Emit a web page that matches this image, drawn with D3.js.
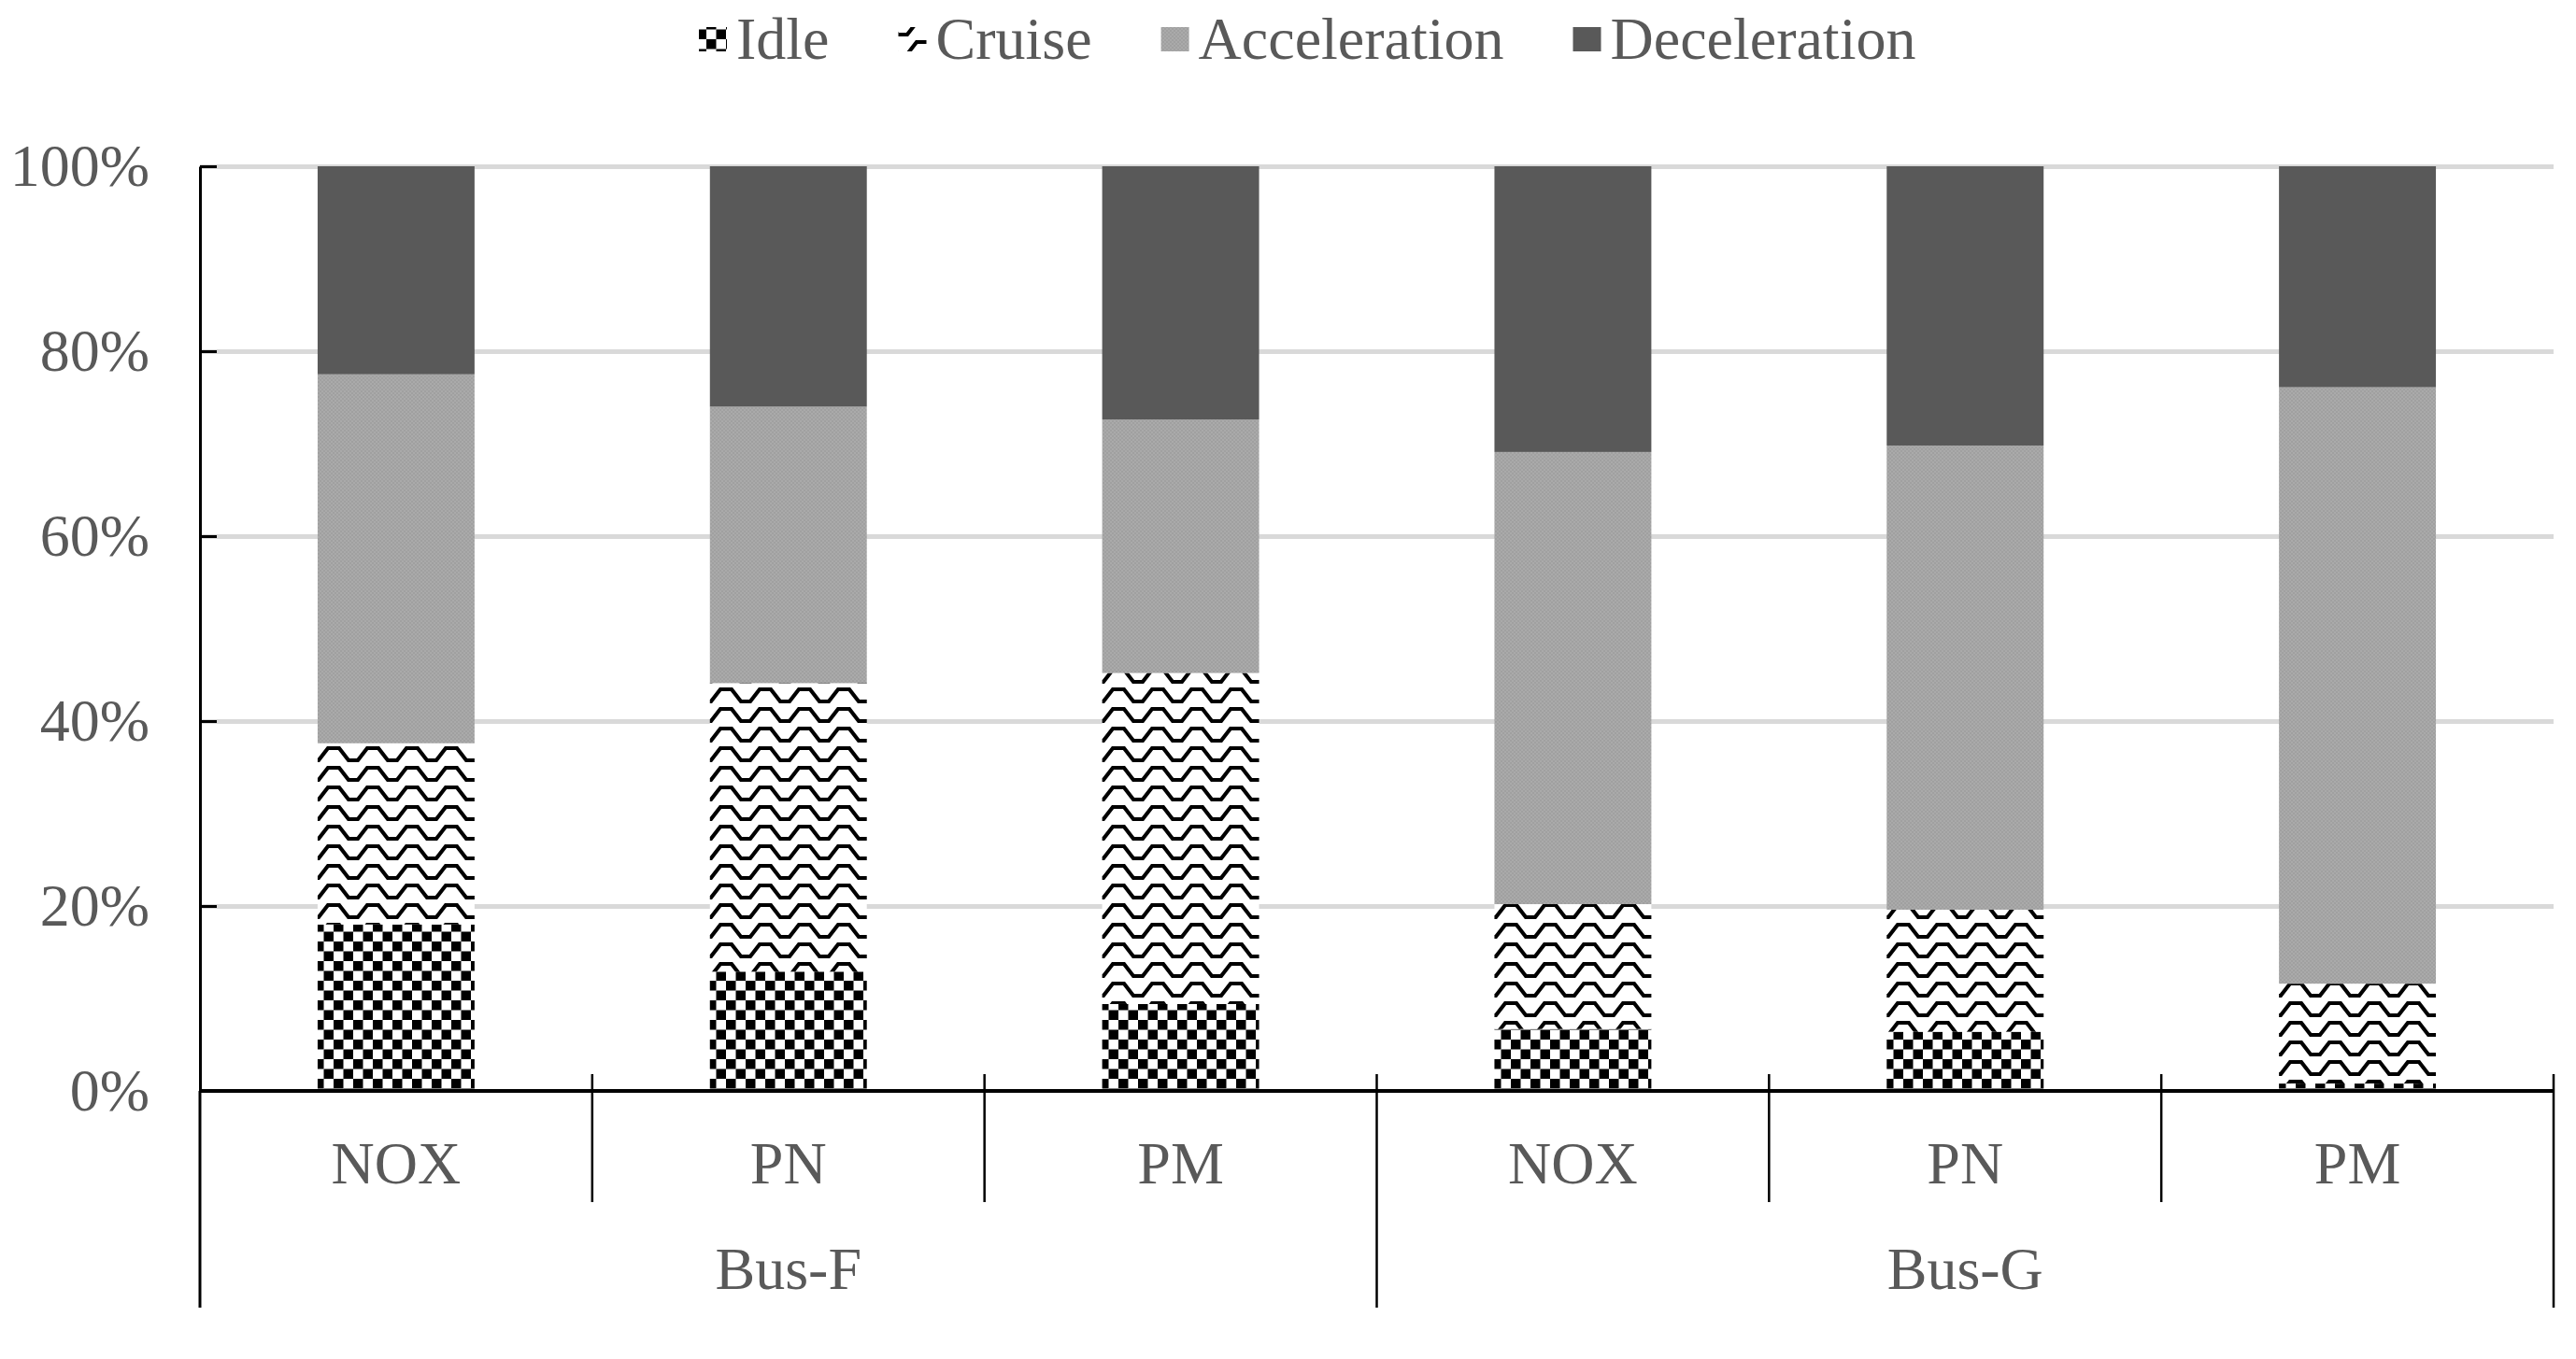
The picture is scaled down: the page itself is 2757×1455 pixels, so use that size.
<!DOCTYPE html>
<html>
<head>
<meta charset="utf-8">
<script src="https://cdn.jsdelivr.net/npm/d3@7"></script>
<style>
  html, body { margin: 0; padding: 0; background: #ffffff; }
  svg { display: block; }
  text { font-family: "Liberation Serif", "Times New Roman", serif; fill: #595959; }
</style>
</head>
<body>
<svg id="chart" width="2757" height="1455"></svg>
<script>
// ---------------- data ----------------
const groups = ["Bus-F", "Bus-G"];
const pollutants = ["NOX", "PN", "PM"];
const categories = ["Bus-F|NOX", "Bus-F|PN", "Bus-F|PM", "Bus-G|NOX", "Bus-G|PN", "Bus-G|PM"];
const seriesNames = ["Idle", "Cruise", "Acceleration", "Deceleration"];
// share (%) of each driving mode, per category (same order as categories)
const idle         = [18.0, 12.9,  9.4,  6.7,  6.4,  0.8];
const cruise       = [19.6, 31.2, 35.8, 13.5, 13.2, 10.8];
const acceleration = [39.9, 29.9, 27.4, 48.9, 50.2, 64.5];
const deceleration = [22.5, 26.0, 27.4, 30.9, 30.2, 23.9];
const yTicks = [0, 0.2, 0.4, 0.6, 0.8, 1.0];

// ---------------- layout ----------------
const plotLeft = 214, plotRight = 2733, plotTop = 178, plotBottom = 1168;
const FONT = 64;

const svg = d3.select("#chart");

// patterns
const defs = svg.append("defs");
const pIdle = defs.append("pattern").attr("id", "pIdle")
  .attr("patternUnits", "userSpaceOnUse").attr("width", 21).attr("height", 21);
pIdle.append("rect").attr("width", 21).attr("height", 21).attr("fill", "#fff");
pIdle.append("rect").attr("x", 0).attr("y", 0).attr("width", 10.5).attr("height", 10.5).attr("fill", "#000");
pIdle.append("rect").attr("x", 10.5).attr("y", 10.5).attr("width", 10.5).attr("height", 10.5).attr("fill", "#000");

const pCruise = defs.append("pattern").attr("id", "pCruise")
  .attr("patternUnits", "userSpaceOnUse").attr("width", 42).attr("height", 21);
pCruise.append("rect").attr("width", 42).attr("height", 21).attr("fill", "#fff");
pCruise.append("path")
  .attr("d", "M-6,16 L5,16 L15,3 L27,3 L37,16 L48,16")
  .attr("fill", "none").attr("stroke", "#000").attr("stroke-width", 4.2)
  .attr("stroke-linejoin", "miter");

const pAcc = defs.append("pattern").attr("id", "pAcc")
  .attr("patternUnits", "userSpaceOnUse").attr("width", 4).attr("height", 4);
pAcc.append("rect").attr("width", 4).attr("height", 4).attr("fill", "#aaaaaa");
pAcc.append("rect").attr("x", 0).attr("y", 0).attr("width", 2).attr("height", 2).attr("fill", "#a0a0a0");
pAcc.append("rect").attr("x", 2).attr("y", 2).attr("width", 2).attr("height", 2).attr("fill", "#a0a0a0");

const fills = {
  "Idle": "url(#pIdle)",
  "Cruise": "url(#pCruise)",
  "Acceleration": "url(#pAcc)",
  "Deceleration": "#595959"
};

// scales
const x = d3.scaleBand().domain(categories).range([plotLeft, plotRight])
  .paddingInner(0.6).paddingOuter(0.3);
const y = d3.scaleLinear().domain([0, 1]).range([plotBottom, plotTop]);

// gridlines
const grid = svg.append("g").attr("transform", `translate(${plotLeft},0)`)
  .call(d3.axisLeft(y).tickValues(yTicks.slice(1)).tickSize(-(plotRight - plotLeft)).tickFormat(""));
grid.select(".domain").remove();
grid.selectAll("line").attr("stroke", "#d9d9d9").attr("stroke-width", 5);

// stacked data
const rows = categories.map((c, i) => ({
  cat: c,
  "Idle": idle[i] / 100,
  "Cruise": cruise[i] / 100,
  "Acceleration": acceleration[i] / 100,
  "Deceleration": deceleration[i] / 100
}));
const stacked = d3.stack().keys(seriesNames)(rows);

svg.append("g").selectAll("g").data(stacked).join("g")
  .attr("fill", d => fills[d.key])
  .selectAll("rect").data(d => d).join("rect")
  .attr("x", d => x(d.data.cat))
  .attr("width", x.bandwidth())
  .attr("y", d => y(Math.min(1, d[1])))
  .attr("height", d => y(d[0]) - y(Math.min(1, d[1])));

// y axis
const yAxis = svg.append("g").attr("transform", `translate(${plotLeft},0)`)
  .call(d3.axisLeft(y).tickValues(yTicks).tickSize(-18).tickSizeOuter(0)
    .tickPadding(54).tickFormat(d3.format(".0%")));
yAxis.select(".domain").attr("stroke", "#000").attr("stroke-width", 3);
yAxis.selectAll(".tick line").attr("stroke", "#000").attr("stroke-width", 3);
yAxis.selectAll(".tick text").attr("font-size", FONT).attr("fill", "#595959")
  .attr("font-family", "Liberation Serif, Times New Roman, serif");

// x axis baseline
const xAxis = svg.append("g").attr("transform", `translate(0,${plotBottom})`)
  .call(d3.axisBottom(x).tickSize(0).tickFormat(""));
xAxis.select(".domain").attr("d", `M${plotLeft},0H${plotRight}`)
  .attr("stroke", "#000").attr("stroke-width", 4);

// category boundaries
const step = x.step();
const bounds = d3.range(categories.length + 1).map(i => plotLeft + i * step);
const lines = svg.append("g").attr("stroke", "#000").attr("stroke-width", 2.5);
bounds.forEach((bx, i) => {
  const isGroup = (i % pollutants.length === 0);
  if (i === 0) {
    lines.append("line").attr("x1", bx).attr("x2", bx).attr("y1", plotBottom).attr("y2", 1400).attr("stroke-width", 3);
  } else if (isGroup) {
    lines.append("line").attr("x1", bx).attr("x2", bx).attr("y1", plotBottom - 18).attr("y2", 1400);
  } else {
    lines.append("line").attr("x1", bx).attr("x2", bx).attr("y1", plotBottom - 18).attr("y2", 1287);
  }
});

// category labels
svg.append("g").selectAll("text").data(categories).join("text")
  .attr("x", d => x(d) + x.bandwidth() / 2)
  .attr("y", 1267)
  .attr("text-anchor", "middle")
  .attr("font-size", FONT)
  .text(d => d.split("|")[1]);

// group labels
svg.append("g").selectAll("text").data(groups).join("text")
  .attr("x", (g, gi) => (bounds[gi * pollutants.length] + bounds[(gi + 1) * pollutants.length]) / 2)
  .attr("y", 1380)
  .attr("text-anchor", "middle")
  .attr("font-size", FONT)
  .text(d => d);

// legend
const legend = svg.append("g");
let lx = 748;
seriesNames.forEach(name => {
  legend.append("rect").attr("x", lx).attr("y", 29).attr("width", 30).attr("height", 26)
    .attr("fill", fills[name]);
  const t = legend.append("text").attr("x", lx + 40).attr("y", 63)
    .attr("font-size", FONT).text(name);
  const w = t.node().getComputedTextLength();
  lx = lx + 40 + w + 74;
});
</script>
</body>
</html>
